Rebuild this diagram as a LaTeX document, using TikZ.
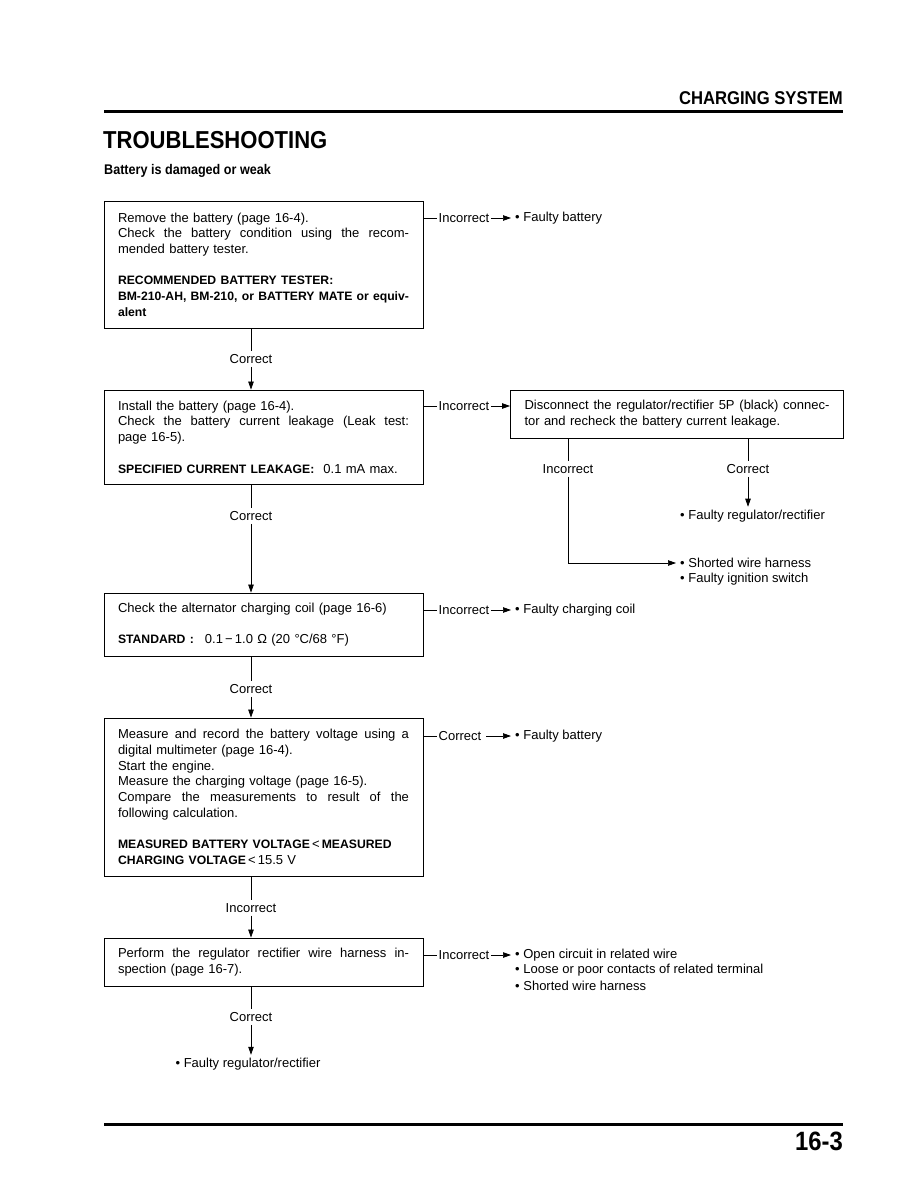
\documentclass[tikz,border=0pt]{standalone}
\usepackage{fontspec}
\setmainfont{Liberation Sans}
\newfontfamily\hdfont{Liberation Sans}[FakeStretch=0.9]
\usetikzlibrary{arrows.meta}
\newcommand{\jl}[2]{\leavevmode\hbox to #1{\spaceskip=0.25em plus 1fil\relax #2}}
\newcommand{\bt}[1]{{\fontsize{12.2}{15.7}\selectfont\bfseries #1}}
\begin{document}
\begin{tikzpicture}[x=1pt,y=-1pt,
  box/.style={draw, line width=0.9pt, text width=291pt, inner xsep=14pt, inner ysep=0pt, align=left, font=\fontsize{13}{15.7}\selectfont},
  lbl/.style={inner xsep=1.5pt, inner ysep=3pt, font=\fontsize{13}{15.7}\selectfont},
  res/.style={lbl, inner xsep=4pt, anchor=west},
  conn/.style={line width=0.7pt},
  arr/.style={line width=0.7pt, -{Triangle[length=8pt,width=5.5pt]}}]
\useasboundingbox[fill=white] (0,0) rectangle (918,1188);
% header
\node[anchor=east, inner sep=0pt, font=\hdfont\bfseries\fontsize{18.5}{20}\selectfont] (hdr) at (843,98) {CHARGING SYSTEM};
\draw[line width=3pt] (104,112) -- (843,112);
\node[anchor=west, inner sep=0pt, font=\hdfont\bfseries\fontsize{24.5}{26}\selectfont] (title) at (103,140) {TROUBLESHOOTING};
\node[anchor=west, inner sep=0pt, font=\hdfont\bfseries\fontsize{14}{16}\selectfont] (sub) at (104,171) {Battery is damaged or weak};
% boxes
\node[box, minimum height=127pt] (b1) at (263.5,264.5) {Remove the battery (page 16-4).\\
\jl{291pt}{Check the battery condition using the recom-}\\
mended battery tester.\\[15.7pt]
\bt{RECOMMENDED BATTERY TESTER:}\\
\bt{\jl{291pt}{BM-210-AH, BM-210, or BATTERY MATE or equiv-}}\\
\bt{alent}};
\node[box, minimum height=94pt] (b2) at (263.5,437) {Install the battery (page 16-4).\\
\jl{291pt}{Check the battery current leakage (Leak test:}\\
page 16-5).\\[15.7pt]
\bt{SPECIFIED CURRENT LEAKAGE:}\hspace{9pt}0.1 mA max.};
\node[box, text width=305pt, minimum height=48pt] (bR) at (677,414) {\jl{305pt}{Disconnect the regulator/rectifier 5P (black) connec-}\\
tor and recheck the battery current leakage.};
\node[box, minimum height=63pt] (b3) at (263.5,624.5) {Check the alternator charging coil (page 16-6)\\[15.7pt]
\bt{STANDARD :}\hspace{11pt}0.1\,−\,1.0 Ω (20 °C/68 °F)};
\node[box, minimum height=158pt] (b4) at (263.5,797) {\jl{291pt}{Measure and record the battery voltage using a}\\
digital multimeter (page 16-4).\\
Start the engine.\\
Measure the charging voltage (page 16-5).\\
\jl{291pt}{Compare the measurements to result of the}\\
following calculation.\\[15.7pt]
\bt{MEASURED BATTERY VOLTAGE}\,<\,\bt{MEASURED}\\
\bt{CHARGING VOLTAGE}\,<\,15.5 V};
\node[box, minimum height=48pt] (b5) at (263.5,962) {\jl{291pt}{Perform the regulator rectifier wire harness in-}\\
spection (page 16-7).};
% side branch 1
\node[lbl, anchor=west] (i1) at (437,218) {Incorrect};
\node[res] (r1) at (511,218) {\textbullet\ Faulty battery};
\draw[conn] (b1.east |- i1.west) -- (i1.west);
\draw[arr] (i1.east) -- (r1.west);
% side branch 2
\node[lbl, anchor=west] (i2) at (437,406) {Incorrect};
\draw[conn] (b2.east |- i2.west) -- (i2.west);
\draw[arr] (i2.east) -- (bR.west |- i2.east);
% bR branches
\node[lbl] (ri) at (568,469) {Incorrect};
\node[lbl] (rc) at (748,469) {Correct};
\node[res] (fr) at (676,516) {\textbullet\ Faulty regulator/rectifier};
\node[res] (sh) at (676,563) {\textbullet\ Shorted wire harness};
\node[res] (ig) at (676,579) {\textbullet\ Faulty ignition switch};
\draw[conn] (ri |- bR.south) -- (ri.north);
\draw[arr] (ri.south) |- (sh.west);
\draw[conn] (rc |- bR.south) -- (rc.north);
\draw[arr] (rc.south) -- (rc.south |- fr.north);
% side branch 3
\node[lbl, anchor=west] (i3) at (437,610) {Incorrect};
\node[res] (r3) at (511,610) {\textbullet\ Faulty charging coil};
\draw[conn] (b3.east |- i3.west) -- (i3.west);
\draw[arr] (i3.east) -- (r3.west);
% side branch 4
\node[lbl, anchor=west] (i4) at (437,736) {Correct};
\node[res] (r4) at (511,736) {\textbullet\ Faulty battery};
\draw[conn] (b4.east |- i4.west) -- (i4.west);
\draw[arr] ([xshift=3pt]i4.east) -- (r4.west);
% side branch 5
\node[lbl, anchor=west] (i5) at (437,955) {Incorrect};
\node[res] (r5a) at (511,955) {\textbullet\ Open circuit in related wire};
\node[res] (r5b) at (511,970) {\textbullet\ Loose or poor contacts of related terminal};
\node[res] (r5c) at (511,986) {\textbullet\ Shorted wire harness};
\draw[conn] (b5.east |- i5.west) -- (i5.west);
\draw[arr] (i5.east) -- (r5a.west);
% vertical connectors
\node[lbl] (c1) at (251,359) {Correct};
\draw[conn] (c1 |- b1.south) -- (c1.north);
\draw[arr] (c1.south) -- (c1 |- b2.north);
\node[lbl] (c2) at (251,516) {Correct};
\draw[conn] (c2 |- b2.south) -- (c2.north);
\draw[arr] (c2.south) -- (c2 |- b3.north);
\node[lbl] (c3) at (251,689) {Correct};
\draw[conn] (c3 |- b3.south) -- (c3.north);
\draw[arr] (c3.south) -- (c3 |- b4.north);
\node[lbl] (c4) at (251,908) {Incorrect};
\draw[conn] (c4 |- b4.south) -- (c4.north);
\draw[arr] (c4.south) -- (c4 |- b5.north);
\node[lbl] (c5) at (251,1017) {Correct};
\node[lbl] (ff) at (248,1064) {\textbullet\ Faulty regulator/rectifier};
\draw[conn] (c5 |- b5.south) -- (c5.north);
\draw[arr] (c5.south) -- (c5 |- ff.north);
% footer
\draw[line width=3pt] (104,1124) -- (843,1124);
\node[anchor=east, inner sep=0pt, font=\hdfont\bfseries\fontsize{26.5}{28}\selectfont] (pg) at (843,1141) {16-3};
\end{tikzpicture}
\end{document}
